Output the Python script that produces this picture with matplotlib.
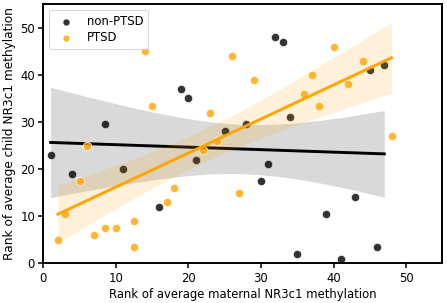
import numpy as np
import matplotlib
matplotlib.use("Agg")
import matplotlib.pyplot as plt

# ranks
non_x = [1, 4, 8.5, 11, 16, 19, 20, 21, 25, 28, 30, 31, 32, 33, 34, 35, 39, 41, 43, 45, 46, 47]
non_y = [23, 19, 29.5, 20, 12, 37, 35, 22, 28, 29.5, 17.5, 21, 48, 47, 31, 2, 10.5, 1, 14, 41, 3.5, 42]

ptsd_x = [2, 3, 5, 6, 7, 8.5, 10, 12.5, 12.5, 14, 15, 17, 18, 22, 23, 24, 26, 27, 29, 36, 37, 38, 40, 42, 44, 48]
ptsd_y = [5, 10.5, 17.5, 25, 6, 7.5, 7.5, 9, 3.5, 45, 33.5, 13, 16, 24, 32, 26, 44, 15, 39, 36, 40, 33.5, 46, 38, 43, 27]

# two sided 90% t quantiles for the residual degrees of freedom
T90 = {20: 1.725, 24: 1.711}


def fit_band(x, y):
    x = np.asarray(x, float)
    y = np.asarray(y, float)
    n = len(x)
    b, a = np.polyfit(x, y, 1)
    grid = np.linspace(x.min(), x.max(), 100)
    yhat = a + b * grid
    resid = y - (a + b * x)
    s = np.sqrt(np.sum(resid ** 2) / (n - 2))
    sxx = np.sum((x - x.mean()) ** 2)
    se = s * np.sqrt(1.0 / n + (grid - x.mean()) ** 2 / sxx)
    t = T90[n - 2]
    return grid, yhat, yhat - t * se, yhat + t * se


fig = plt.figure(figsize=(447 / 70, 303 / 70), dpi=70)
ax = fig.add_axes([0.097, 0.131, 0.8925, 0.855])

groups = [(non_x, non_y, "k", "non-PTSD"), (ptsd_x, ptsd_y, "orange", "PTSD")]
for gx, gy, c, lab in groups:
    ax.scatter(gx, gy, s=75, color=c, alpha=0.8, edgecolor="white", linewidth=1, label=lab, zorder=2)
    grid, yhat, lo, hi = fit_band(gx, gy)
    ax.fill_between(grid, lo, hi, color=c, alpha=0.15, linewidth=0, zorder=2)
    ax.plot(grid, yhat, color=c, lw=3, zorder=2)

ax.set_xlim(0, 55)
ax.set_ylim(0, 55)
ax.set_xticks([0, 10, 20, 30, 40, 50])
ax.set_yticks([0, 10, 20, 30, 40, 50])
ax.set_xlabel("Rank of average maternal NR3c1 methylation", fontsize=12)
ax.set_ylabel("Rank of average child NR3c1 methylation", fontsize=12.5)
for sp in ax.spines.values():
    sp.set_linewidth(2)
ax.tick_params(width=1.6, length=5, labelsize=12)
ax.legend(loc="upper left", fontsize=12, markerscale=0.85, labelspacing=0.3)

fig.savefig("out.png", dpi=70)
